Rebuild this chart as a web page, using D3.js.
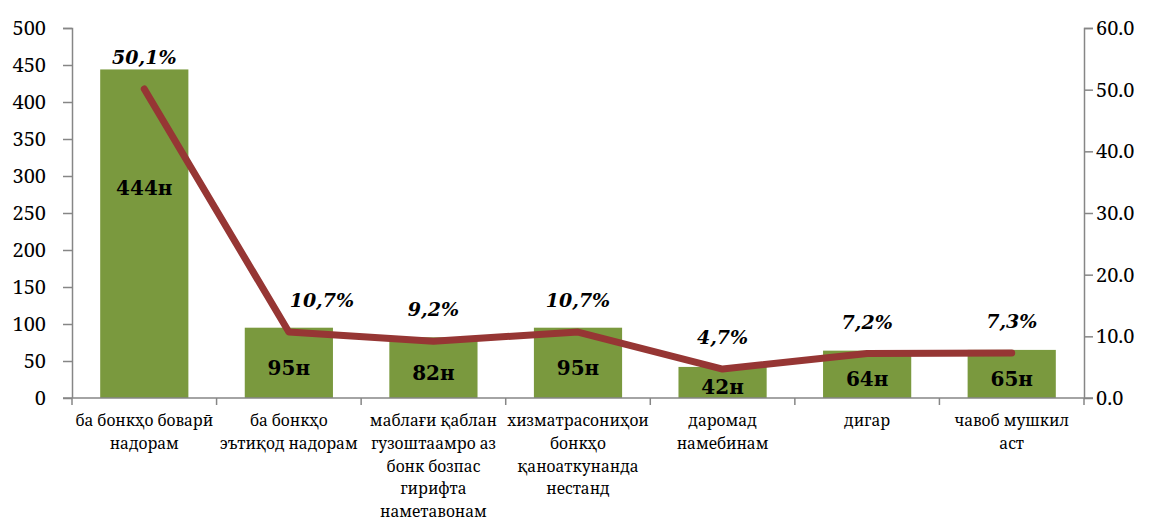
<!DOCTYPE html>
<html>
<head>
<meta charset="utf-8">
<script src="https://cdn.jsdelivr.net/npm/d3@7"></script>
</head>
<body style="margin:0;background:#fff">
<div id="chart"></div>
<script>
// categories (already split into lines the way the original wraps them)
var categories = [
  ["ба бонкҳо боварӣ", "надорам"],
  ["ба бонкҳо", "эътиқод надорам"],
  ["маблағи қаблан", "гузоштаамро аз", "бонк  бозпас", "гирифта", "наметавонам"],
  ["хизматрасониҳои", "бонкҳо", "қаноаткунанда", "нестанд"],
  ["даромад", "намебинам"],
  ["дигар"],
  ["чавоб мушкил", "аст"]
];
var counts = [444, 95, 82, 95, 42, 64, 65];
var shares = [50.1, 10.7, 9.2, 10.7, 4.7, 7.2, 7.3];
var leftTicks = [0, 50, 100, 150, 200, 250, 300, 350, 400, 450, 500];
var rightTicks = [0, 10, 20, 30, 40, 50, 60];

var W = 1153, H = 523;
var m = {top: 28, right: 69, bottom: 125, left: 72};
var w = W - m.left - m.right, h = H - m.top - m.bottom;

var tickFont = "'Noto Serif'";
var catFont = "'Noto Serif'";
var labFont = "'DejaVu Serif'";

var svg = d3.select("#chart").append("svg")
  .attr("width", W)
  .attr("height", H);
var g = svg.append("g").attr("transform", "translate(" + m.left + "," + m.top + ")");

var idx = d3.range(categories.length);
var x = d3.scaleBand().domain(idx).range([0, w]).paddingInner(0.39).paddingOuter(0.195);
var yL = d3.scaleLinear().domain([0, 500]).range([h, 0]);
var yR = d3.scaleLinear().domain([0, 60]).range([h, 0]);

var axisColor = "#868686";

// bars
g.selectAll(".bar")
  .data(counts)
  .enter().append("rect")
  .attr("class", "bar")
  .attr("x", function(d, i){return x(i);})
  .attr("y", function(d){return yL(d);})
  .attr("width", x.bandwidth())
  .attr("height", function(d){return h - yL(d);})
  .style("fill", "#7a993e");

// left axis
var axL = g.append("g")
  .call(d3.axisLeft(yL).tickValues(leftTicks).tickSize(9).tickPadding(17).tickFormat(d3.format("d")));
axL.select(".domain").attr("d", "M-9,0.5H0.5V" + h);
// right axis
var axR = g.append("g")
  .attr("transform", "translate(" + w + ",0)")
  .call(d3.axisRight(yR).tickValues(rightTicks).tickSize(9).tickPadding(3).tickFormat(d3.format(".1f")));
axR.select(".domain").attr("d", "M9,0.5H0.5V" + h);

[axL, axR].forEach(function(a){
  a.selectAll("path, line").attr("stroke", axisColor).attr("stroke-width", 1.5);
  a.selectAll("text")
    .style("font-family", tickFont)
    .style("font-size", "20px")
    .attr("fill", "#000");
});

// baseline with category tick marks
g.append("line")
  .attr("x1", -9).attr("x2", w + 9)
  .attr("y1", h).attr("y2", h)
  .attr("stroke", axisColor).attr("stroke-width", 1.5);
g.selectAll(".ctick")
  .data(d3.range(categories.length + 1))
  .enter().append("line")
  .attr("x1", function(i){return i * x.step();})
  .attr("x2", function(i){return i * x.step();})
  .attr("y1", h).attr("y2", h + 7)
  .attr("stroke", axisColor).attr("stroke-width", 1.5);

// category labels
var cl = g.selectAll(".cat")
  .data(categories)
  .enter().append("text")
  .attr("class", "cat")
  .attr("text-anchor", "middle")
  .style("font-family", catFont)
  .style("font-size", "15.5px")
  .attr("fill", "#000")
  .attr("transform", function(d, i){return "translate(" + (x(i) + x.bandwidth()/2) + "," + (h + 28) + ")";});
cl.selectAll("tspan")
  .data(function(d){return d;})
  .enter().append("tspan")
  .attr("x", 0)
  .attr("y", function(d, j){return j * 22.8;})
  .text(function(d){return d;});

// bar labels: centred in the bar, but never lower than a fixed distance under a tall bar's top
g.selectAll(".blab")
  .data(counts)
  .enter().append("text")
  .attr("class", "blab")
  .attr("text-anchor", "middle")
  .attr("x", function(d, i){return x(i) + x.bandwidth()/2;})
  .attr("y", function(d){return Math.min((yL(d) + h)/2 + 12, yL(d) + 126);})
  .style("font-family", labFont)
  .style("font-size", "20px")
  .style("font-weight", "bold")
  .attr("fill", "#000")
  .text(function(d){return d + "н";});

// share line
var line = d3.line()
  .x(function(d, i){return x(i) + x.bandwidth()/2;})
  .y(function(d){return yR(d);});
g.append("path")
  .datum(shares)
  .attr("d", line)
  .attr("fill", "none")
  .attr("stroke", "#963634")
  .attr("stroke-width", 7)
  .attr("stroke-linecap", "round")
  .attr("stroke-linejoin", "round");

// share labels
var fmt = function(v){return d3.format(".1f")(v).replace(".", ",") + "%";};
g.selectAll(".slab")
  .data(shares)
  .enter().append("text")
  .attr("class", "slab")
  .attr("text-anchor", "middle")
  .attr("x", function(d, i){return x(i) + x.bandwidth()/2 + (i === 1 ? 33 : 0);})
  .attr("y", function(d){return yR(d) - 25;})
  .style("font-family", labFont)
  .style("font-size", "19px")
  .style("font-weight", "bold")
  .style("font-style", "italic")
  .attr("fill", "#000")
  .text(fmt);
</script>
</body>
</html>
